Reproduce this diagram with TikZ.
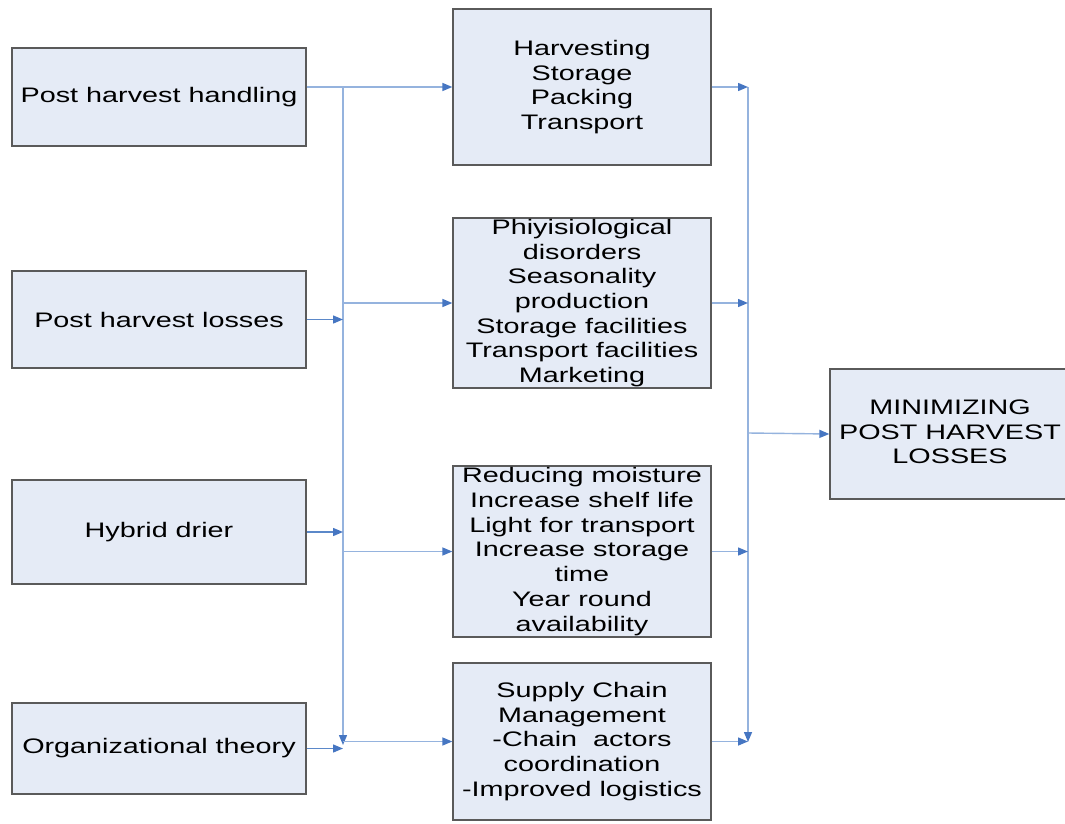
\documentclass[tikz,border=0pt]{standalone}
\usepackage{fontspec}
\setmainfont{Liberation Sans}[FakeStretch=1.37]
\usetikzlibrary{arrows.meta}
\definecolor{boxfill}{HTML}{E5EBF6}
\definecolor{boxline}{HTML}{5A5A5A}
\definecolor{linelight}{HTML}{95B3DE}
\definecolor{linedark}{HTML}{5B88C9}
\definecolor{tipblue}{HTML}{4676C2}
\begin{document}
\begin{tikzpicture}[x=1pt,y=-1pt,
  box/.style={draw=boxline,fill=boxfill,line width=1.3pt,inner sep=0pt,align=center,
    font=\fontsize{21}{24.7}\selectfont},
  lbox/.style={box,minimum width=294pt},
  mbox/.style={box,minimum width=258pt},
  conn/.style={draw=linelight,line width=1.4pt,-{Triangle[length=10pt,width=8pt,color=tipblue]}},
  conndark/.style={conn,draw=linedark}]
\clip (0,0) rectangle (1065,824);
\fill[white] (0,0) rectangle (1065,824);
% left boxes
\node[lbox,minimum height=98pt] (phh) at (159,97) {\raisebox{-1pt}{Post harvest handling}};
\node[lbox,minimum height=97pt] (phl) at (159,319.5) {Post harvest losses};
\node[lbox,minimum height=104pt] (hd) at (159,532) {Hybrid drier};
\node[lbox,minimum height=91pt] (ot) at (159,748.5) {Organizational theory};
% middle boxes
\node[mbox,minimum height=156pt] (b1) at (582,87) {Harvesting\\Storage\\Packing\\Transport};
\node[mbox,minimum height=170pt] (b2) at (582,303) {\raisebox{-2pt}{\parbox{258pt}{\centering Phiyisiological\\disorders\\Seasonality\\production\\Storage facilities\\Transport facilities\\Marketing}}};
\node[mbox,minimum height=171pt] (b3) at (582,551.5) {Reducing moisture\\Increase shelf life\\Light for transport\\Increase storage\\time\\Year round\\availability};
\node[mbox,minimum height=157pt] (b4) at (582,741.5) {Supply Chain\\Management\\-Chain\ \ actors\\coordination\\-Improved logistics};
% result box (runs past right edge)
\node[box,minimum width=250pt,minimum height=130pt,text width=250pt] (res) at (955,434) {};
\node[font=\fontsize{21}{24.7}\selectfont,align=center,inner sep=0pt] (restext) at (950,432) {MINIMIZING\\POST HARVEST\\LOSSES};
% junction coordinates
\coordinate (lvtop) at (343,87);
\coordinate (lvbot) at (343,745);
\coordinate (rvtop) at (748,87);
\coordinate (rvbot) at (748,742);
\coordinate (rvmid) at (748,433);
% left trunk
\draw[conn] (lvtop) -- (lvbot);
\draw[conn] (phh.east |- b1.west) -- (b1.west);
\draw[conndark] (phl.east) -- (phl.east -| lvtop);
\draw[conndark] (hd.east) -- (hd.east -| lvtop);
\draw[conndark] (ot.east) -- (ot.east -| lvtop);
\draw[conn] (b2.west -| lvtop) -- (b2.west);
\draw[conn] (b3.west -| lvtop) -- (b3.west);
\draw[conn] (b4.west -| lvtop) -- (b4.west);
% right trunk
\draw[conn] (rvtop) -- (rvbot);
\draw[conn] (b1.east) -- (b1.east -| rvtop);
\draw[conn] (b2.east) -- (b2.east -| rvtop);
\draw[conn] (b3.east) -- (b3.east -| rvtop);
\draw[conn] (b4.east) -- (b4.east -| rvtop);
\draw[conn] (rvmid) -- (res.west);
\end{tikzpicture}
\end{document}
